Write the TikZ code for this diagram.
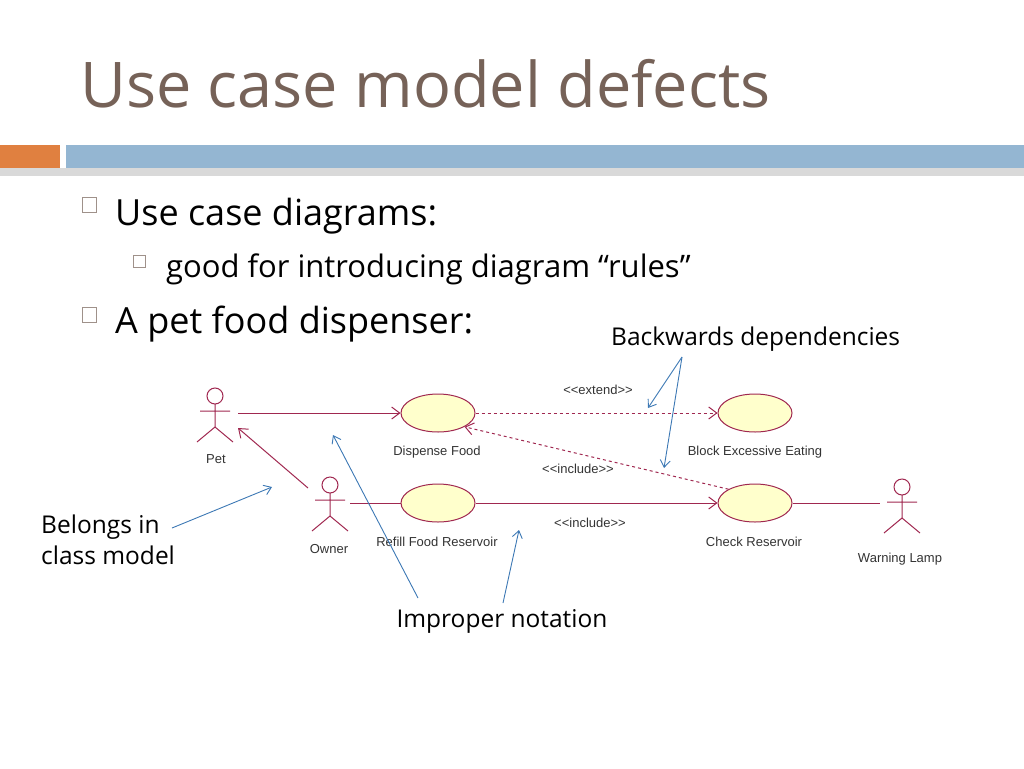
\documentclass[tikz,border=0pt]{standalone}
\usepackage{fontspec}
\setmainfont{Open Sans}
\newfontfamily\uml{Liberation Sans}
\usetikzlibrary{arrows.meta,shapes.geometric}
\definecolor{titlec}{RGB}{118,98,88}
\definecolor{umlred}{RGB}{160,40,80}
\definecolor{ucfill}{RGB}{255,255,204}
\definecolor{annot}{RGB}{60,120,180}
\definecolor{barblue}{RGB}{148,182,210}
\definecolor{barorange}{RGB}{224,128,64}
\begin{document}
\begin{tikzpicture}[x=1pt,y=-1pt,
  uc/.style={ellipse,draw=umlred,fill=ucfill,minimum width=74pt,minimum height=38pt,inner sep=0pt,line width=1pt},
  lbl/.style={font=\uml\fontsize{13}{15}\selectfont,text=black!80},
  con/.style={draw=umlred,line width=1pt},
  oa/.style={-{Straight Barb[length=8pt,width=12pt]}},
  dsh/.style={dash pattern=on 3pt off 3pt},
  ann/.style={draw=annot,line width=0.9pt,-{Straight Barb[length=7pt,width=10pt]}},
  atext/.style={font=\fontsize{24.5}{30}\selectfont,text=black,anchor=base west,inner sep=0pt},
  actor/.pic={\draw[umlred,line width=1pt] (0,0) circle (8) (0,8)--(0,31) (-15,15)--(15,15) (-18,46)--(0,31)--(18,46);}
]
\useasboundingbox (0,0) rectangle (1024,768);
\node[anchor=base west,inner sep=0pt,text=titlec,font=\fontsize{63}{70}\selectfont] (title) at (80,107) {Use case model defects};
\fill[black!15] (0,168) rectangle (1024,176);
\fill[barorange] (0,145) rectangle (60,168);
\fill[barblue] (66,145) rectangle (1024,168);
\draw[titlec!70,line width=0.8pt] (82,197) rectangle (96,212) (133,255) rectangle (145,267) (82,307) rectangle (96,322);
\node[atext,font=\fontsize{36}{40}\selectfont] (b1) at (115,225) {Use case diagrams:};
\node[atext,font=\fontsize{31}{36}\selectfont] (b2) at (166,277) {good for introducing diagram “rules”};
\node[atext,font=\fontsize{36}{40}\selectfont] (b3) at (115,333) {A pet food dispenser:};
\node[atext] (bd) at (611,345) {Backwards dependencies};
\node[atext] (bel) at (41,533) {Belongs in};
\node[atext] (bel2) at (41,564) {class model};
\node[atext,anchor=base] (imp) at (502,627) {Improper notation};
% actors
\pic at (215,396) {actor};
\pic at (330,485) {actor};
\pic at (902,487) {actor};
\coordinate (petR) at (238,413);
\coordinate (petArm) at (238,428);
\coordinate (ownUL) at (308,488);
\coordinate (ownR) at (350,503);
\coordinate (lampL) at (880,503);
\node[lbl] (petl) at (216,459) {Pet};
\node[lbl] (ownl) at (329,549) {Owner};
\node[lbl] (lampl) at (900,559) {Warning Lamp};
% use cases
\node[uc] (df) at (438,413) {};
\node[uc] (be) at (755,413) {};
\node[uc] (rf) at (438,503) {};
\node[uc] (cr) at (755,503) {};
\node[lbl] at (437,452) {Dispense Food};
\node[lbl] at (755,452) {Block Excessive Eating};
\node[lbl] at (437,542) {Refill Food Reservoir};
\node[lbl] at (754,542) {Check Reservoir};
\node[lbl] at (598,390) {<<extend>>};
\node[lbl] at (578,469) {<<include>>};
\node[lbl] at (590,523) {<<include>>};
% connectors
\draw[con,oa] (petR) -- (df.west);
\draw[con,oa] (ownUL) -- (petArm);
\draw[con] (ownR) -- (rf.west);
\draw[con,oa] (rf.east) -- (cr.west);
\draw[con,oa,dsh] (df.east) -- (be.west);
\draw[con,oa,dsh] (cr.north west) -- (df.south east);
\draw[con] (cr.east) -- (lampL);
% annotations
\coordinate (bdt) at (682,357);
\draw[ann] (bdt) -- (648,408);
\draw[ann] (bdt) -- (664,468);
\draw[ann] (172,528) -- (272,487);
\draw[ann] (418,598) -- (333,435);
\draw[ann] (503,603) -- (519,530);
\end{tikzpicture}
\end{document}
